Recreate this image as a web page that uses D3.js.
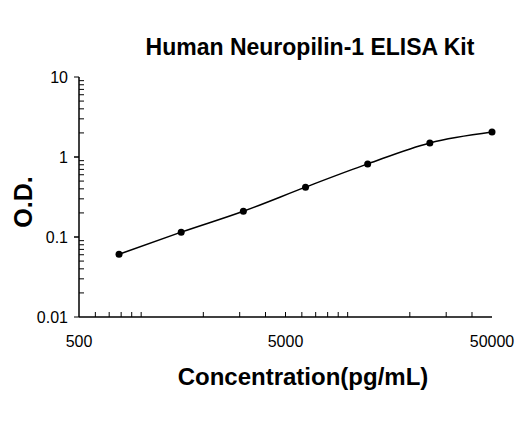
<!DOCTYPE html><html><head><script src="https://cdn.jsdelivr.net/npm/d3@7"></script>
<style>body{margin:0;background:#fff}text{font-family:Arial,"Liberation Sans",sans-serif}</style></head><body><svg width="520" height="421"></svg>
<script>
const conc=[781.25,1562.5,3125,6250,12500,25000,50000];
const od=[0.061,0.115,0.21,0.42,0.82,1.5,2.05];
const xTicks=[500,5000,50000];
const yTicks=[0.01,0.1,1,10];
const svg=d3.select("svg");
const x=d3.scaleLog().domain([500,50000]).range([79,492]);
const y=d3.scaleLog().domain([0.01,10]).range([317,77]);
const g=svg.append("g");
g.append("line").attr("x1",79).attr("x2",492).attr("y1",317).attr("y2",317).attr("stroke","#000").attr("stroke-width",1.5);
g.append("line").attr("x1",79).attr("x2",79).attr("y1",77).attr("y2",317).attr("stroke","#000").attr("stroke-width",1.5);
const xminor=[];[100,1000,10000].forEach(d=>{for(let k=1;k<10;k++){const v=d*k;if(v>500&&v<50000)xminor.push(v)}});
g.selectAll(".xt").data(xminor).join("line").attr("x1",d=>x(d)).attr("x2",d=>x(d)).attr("y1",317).attr("y2",312).attr("stroke","#000");
const yminor=[];[0.01,0.1,1].forEach(d=>{for(let k=1;k<=10;k++)yminor.push(d*k)});
g.selectAll(".yt").data(yminor).join("line").attr("x1",79).attr("x2",d=>yTicks.some(t=>Math.abs(t-d)<1e-9)?74:84).attr("y1",d=>y(d)).attr("y2",d=>y(d)).attr("stroke","#000");
g.selectAll(".xl").data(xTicks).join("text").attr("x",d=>x(d)).attr("y",347).attr("text-anchor","middle").attr("font-size",16).text(d=>d);
g.selectAll(".yl").data(yTicks).join("text").attr("x",68).attr("y",d=>y(d)+6).attr("text-anchor","end").attr("font-size",16).text(d=>d);
const line=d3.line().x((d,i)=>x(conc[i])).y(d=>y(d)).curve(d3.curveMonotoneX);
g.append("path").attr("d",line(od)).attr("fill","none").attr("stroke","#000").attr("stroke-width",1.5);
g.selectAll("circle").data(od).join("circle").attr("cx",(d,i)=>x(conc[i])).attr("cy",d=>y(d)).attr("r",3.5).attr("fill","#000");
svg.append("text").attr("x",310).attr("y",55).attr("text-anchor","middle").attr("font-size",23).attr("font-weight","bold").text("Human Neuropilin-1 ELISA Kit");
svg.append("text").attr("x",303).attr("y",385).attr("text-anchor","middle").attr("font-size",24).attr("font-weight","bold").text("Concentration(pg/mL)");
svg.append("text").attr("transform","translate(32,202) rotate(-90)").attr("text-anchor","middle").attr("font-size",25).attr("font-weight","bold").text("O.D.");
</script></body></html>
